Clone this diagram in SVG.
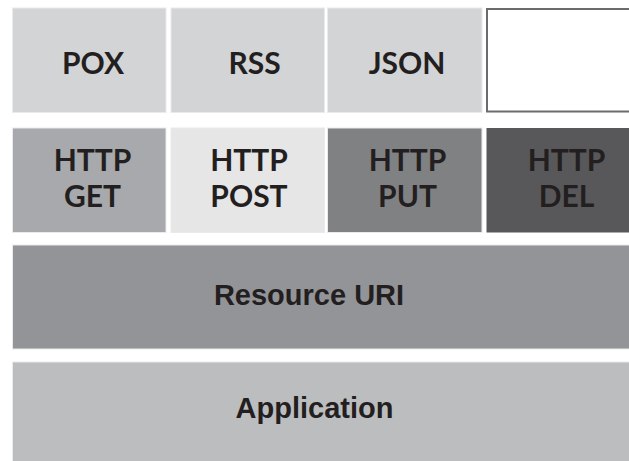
<svg xmlns="http://www.w3.org/2000/svg" width="629" height="461" viewBox="0 0 629 461">
  <style>
    .box { stroke: #e9eaeb; stroke-width: 1; }
    .lbl { font-family: Lato, "Open Sans", sans-serif; font-weight: 700; font-size: 30px; fill: #231f20; text-anchor: middle; }
    .wide { font-family: "Liberation Sans", Arial, sans-serif; font-weight: 700; font-size: 29px; fill: #231f20; text-anchor: middle; }
  </style>
  <rect width="629" height="461" fill="#ffffff"/>

  <!-- Row 1: representation formats -->
  <g id="pox">
    <rect class="box" x="12.5" y="8" width="153.5" height="104.5" fill="#d3d4d6"/>
    <text class="lbl" x="93" y="74">POX</text>
  </g>
  <g id="rss">
    <rect class="box" x="171" y="8" width="153.5" height="104.5" fill="#d3d4d6"/>
    <text class="lbl" x="254.5" y="74">RSS</text>
  </g>
  <g id="json">
    <rect class="box" x="327.5" y="8" width="154.5" height="104.5" fill="#d3d4d6"/>
    <text class="lbl" x="407" y="74">JSON</text>
  </g>
  <g id="empty">
    <rect x="487" y="9" width="150" height="102.5" fill="#ffffff" stroke="#6b6b6d" stroke-width="2"/>
  </g>

  <!-- Row 2: HTTP verbs -->
  <g id="http-get">
    <rect class="box" x="12.5" y="128" width="153.5" height="104.5" fill="#a8a9ac"/>
    <text class="lbl" x="92.5" y="171">HTTP</text>
    <text class="lbl" x="92.5" y="207">GET</text>
  </g>
  <g id="http-post">
    <rect class="box" x="171" y="128" width="153.5" height="104.5" fill="#e6e6e7"/>
    <text class="lbl" x="249" y="171">HTTP</text>
    <text class="lbl" x="249" y="207">POST</text>
  </g>
  <g id="http-put">
    <rect class="box" x="327.5" y="128" width="154.5" height="104.5" fill="#808183"/>
    <text class="lbl" x="407.5" y="171">HTTP</text>
    <text class="lbl" x="407.5" y="207">PUT</text>
  </g>
  <g id="http-del">
    <rect x="486.5" y="128" width="150" height="104.5" fill="#58585a"/>
    <text class="lbl" x="566.5" y="171">HTTP</text>
    <text class="lbl" x="566.5" y="207">DEL</text>
  </g>

  <!-- Row 3: resource addressing -->
  <g id="resource-uri">
    <rect class="box" x="12.5" y="245" width="630" height="104" fill="#939498"/>
    <text class="wide" x="309" y="305">Resource URI</text>
  </g>

  <!-- Row 4: application -->
  <g id="application">
    <rect class="box" x="12.5" y="362" width="630" height="110" fill="#bcbdbf"/>
    <text class="wide" x="314.5" y="418">Application</text>
  </g>

  <g id="connectors"/>
</svg>
